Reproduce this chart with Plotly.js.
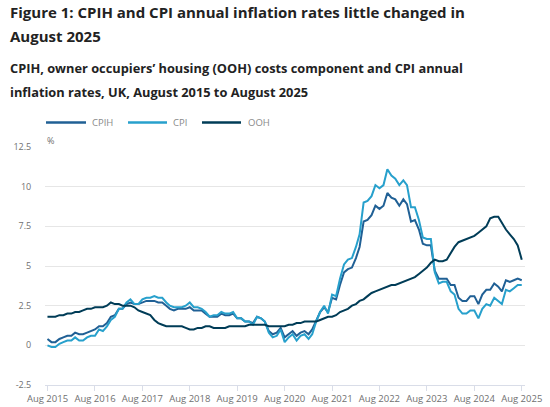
<!DOCTYPE html>
<html>
<head>
<meta charset="utf-8">
<script src="https://cdn.plot.ly/plotly-3.0.1.min.js"></script>
<style>
html,body{margin:0;padding:0;background:#fff;}
#chart{width:550px;height:407px;}
</style>
</head>
<body>
<div id="chart"></div>
<script>
// Monthly series, August 2015 to August 2025
var startMonth = '2015-08';
var cpih = [
  0.4, 0.2, 0.2, 0.4, 0.5,
  0.6, 0.6, 0.8, 0.7, 0.7, 0.8, 0.9, 1.0, 1.2, 1.2, 1.4, 1.8,
  1.9, 2.3, 2.3, 2.6, 2.7, 2.6, 2.6, 2.7, 2.8, 2.8, 2.8, 2.7,
  2.7, 2.5, 2.3, 2.2, 2.3, 2.3, 2.3, 2.4, 2.2, 2.2, 2.2, 2.0,
  1.8, 1.8, 1.8, 2.0, 1.9, 1.9, 2.0, 1.7, 1.7, 1.5, 1.5, 1.4,
  1.8, 1.7, 1.5, 0.9, 0.7, 0.8, 1.1, 0.5, 0.7, 0.9, 0.6, 0.8,
  0.9, 0.7, 1.0, 1.6, 2.1, 2.4, 2.1, 3.0, 2.9, 3.8, 4.6, 4.8,
  4.9, 5.5, 6.2, 7.8, 7.9, 8.2, 8.8, 8.6, 8.8, 9.6, 9.3, 9.2,
  8.8, 9.2, 8.9, 7.8, 7.9, 7.3, 6.4, 6.3, 6.3, 4.7, 4.2, 4.2,
  4.2, 3.8, 3.8, 3.0, 2.8, 2.8, 3.1, 3.1, 2.6, 3.2, 3.5, 3.5,
  3.9, 3.7, 3.4, 4.1, 4.0, 4.1, 4.2, 4.1
];
var cpi = [
  0.0, -0.1, -0.1, 0.1, 0.2,
  0.3, 0.3, 0.5, 0.3, 0.3, 0.5, 0.6, 0.6, 1.0, 0.9, 1.2, 1.6,
  1.8, 2.3, 2.3, 2.7, 2.9, 2.6, 2.6, 2.9, 3.0, 3.0, 3.1, 3.0,
  3.0, 2.7, 2.5, 2.4, 2.4, 2.4, 2.5, 2.7, 2.4, 2.4, 2.3, 2.1,
  1.8, 1.9, 1.9, 2.1, 2.0, 2.0, 2.1, 1.7, 1.7, 1.5, 1.5, 1.3,
  1.8, 1.7, 1.5, 0.8, 0.5, 0.6, 1.0, 0.2, 0.5, 0.7, 0.3, 0.6,
  0.7, 0.4, 0.7, 1.5, 2.1, 2.5, 2.0, 3.2, 3.1, 4.2, 5.1, 5.4,
  5.5, 6.2, 7.0, 9.0, 9.1, 9.4, 10.1, 9.9, 10.1, 11.1, 10.7, 10.5,
  10.1, 10.4, 10.1, 8.7, 8.7, 7.9, 6.8, 6.7, 6.7, 4.6, 3.9, 4.0,
  4.0, 3.4, 3.2, 2.3, 2.0, 2.0, 2.2, 2.2, 1.7, 2.3, 2.6, 2.5,
  3.0, 2.8, 2.6, 3.5, 3.4, 3.6, 3.8, 3.8
];
var ooh = [
  1.8, 1.8, 1.8, 1.9, 1.9,
  2.0, 2.0, 2.1, 2.1, 2.2, 2.3, 2.3, 2.4, 2.4, 2.4, 2.5, 2.7,
  2.6, 2.6, 2.5, 2.5, 2.5, 2.4, 2.2, 2.1, 2.0, 1.9, 1.6, 1.4,
  1.3, 1.2, 1.2, 1.2, 1.2, 1.2, 1.1, 1.0, 1.0, 1.1, 1.1, 1.2,
  1.2, 1.1, 1.1, 1.1, 1.1, 1.2, 1.2, 1.2, 1.2, 1.2, 1.3, 1.3,
  1.3, 1.3, 1.3, 1.2, 1.2, 1.2, 1.2, 1.2, 1.3, 1.3, 1.4, 1.4,
  1.5, 1.5, 1.5, 1.5, 1.6, 1.7, 1.8, 1.8, 1.9, 2.1, 2.2, 2.3,
  2.5, 2.6, 2.8, 2.9, 3.1, 3.3, 3.4, 3.5, 3.6, 3.7, 3.8, 3.8,
  3.9, 4.0, 4.1, 4.2, 4.3, 4.5, 4.7, 4.9, 5.2, 5.4, 5.3, 5.3,
  5.4, 5.8, 6.2, 6.5, 6.6, 6.7, 6.8, 6.9, 7.1, 7.3, 7.5, 8.0,
  8.1, 8.1, 7.7, 7.3, 7.0, 6.7, 6.3, 5.4
];
var seriesNames = ['CPIH', 'CPI', 'OOH'];
var seriesColors = ['#206095', '#27a0cc', '#003c57'];
var tickLabels = ['Aug 2015','Aug 2016','Aug 2017','Aug 2018','Aug 2019','Aug 2020',
                  'Aug 2021','Aug 2022','Aug 2023','Aug 2024','Aug 2025'];
var yTicks = [-2.5, 0, 2.5, 5, 7.5, 10, 12.5];
var yTickText = ['-2.5', '0', '2.5', '5', '7.5', '10', '12.5'];

// month list
function monthList(start, n) {
  var y = +start.slice(0,4), m = +start.slice(5,7);
  var out = [];
  for (var i = 0; i < n; i++) {
    out.push(y + '-' + (m < 10 ? '0' + m : m) + '-01');
    m++; if (m > 12) { m = 1; y++; }
  }
  return out;
}
var months = monthList(startMonth, cpih.length);
var monthIdx = {Jan:'01',Feb:'02',Mar:'03',Apr:'04',May:'05',Jun:'06',Jul:'07',Aug:'08',Sep:'09',Oct:'10',Nov:'11',Dec:'12'};
var tickVals = tickLabels.map(function(t){ var p = t.split(' '); return p[1] + '-' + monthIdx[p[0]] + '-01'; });

var allSeries = [cpih, cpi, ooh];
var traces = allSeries.map(function(vals, i){
  return {
    x: months, y: vals, type: 'scatter', mode: 'lines', name: seriesNames[i],
    line: {color: seriesColors[i], width: 2}, hoverinfo: 'skip'
  };
});
// draw OOH under? keep order CPIH, CPI, OOH
// plot area pixel geometry
var L = 45, R = 525, T = 147, B = 385, W = 550, H = 407;
function px(x){ return (x - L) / (R - L); }
function py(y){ return (B - y) / (B - T); }

var font = 'Open Sans, Noto Sans, Arial, sans-serif';
var annotations = [
  {text: '<b>Figure 1: CPIH and CPI annual inflation rates little changed in</b>', x: px(8), y: py(12), size: 15},
  {text: '<b>August 2025</b>', x: px(8), y: py(36), size: 15},
  {text: '<b>CPIH, owner occupiers\u2019 housing (OOH) costs component and CPI annual</b>', x: px(8), y: py(68), size: 12.8},
  {text: '<b>inflation rates, UK, August 2015 to August 2025</b>', x: px(8), y: py(92), size: 12.8}
].map(function(a){
  return {text: a.text, xref: 'paper', yref: 'paper', x: a.x, y: a.y, xanchor: 'left', yanchor: 'middle',
          showarrow: false, font: {family: font, size: a.size, color: '#222222'}};
});
annotations.push({text: '%', xref: 'paper', yref: 'paper', x: px(45), y: py(140), xanchor: 'left', yanchor: 'middle',
  showarrow: false, font: {family: font, size: 9, color: '#707070'}});

// legend
var legX = [[46, 86, 90], [128, 167, 171], [202, 241, 246]];
var legY = 122.5;
var shapes = [];
seriesNames.forEach(function(n, i){
  shapes.push({type: 'line', xref: 'paper', yref: 'paper', x0: px(legX[i][0]), x1: px(legX[i][1]), y0: py(legY), y1: py(legY),
    line: {color: seriesColors[i], width: 2.5}});
  annotations.push({text: n, xref: 'paper', yref: 'paper', x: px(legX[i][2]), y: py(legY), xanchor: 'left', yanchor: 'middle',
    showarrow: false, font: {family: font, size: 9.5, color: '#8a8a8a'}});
});

var layout = {
  width: W, height: H,
  margin: {l: L, r: W - R, t: T, b: H - B, pad: 0},
  paper_bgcolor: '#ffffff', plot_bgcolor: '#ffffff',
  showlegend: false,
  font: {family: font, color: '#707070', size: 9},
  xaxis: {
    type: 'date', range: ['2015-07-13', '2025-08-26'],
    tickvals: tickVals, ticktext: tickLabels,
    showgrid: false, zeroline: false,
    showline: true, linecolor: '#d9dde8', linewidth: 1,
    ticks: 'outside', ticklen: 5, tickcolor: '#d9dde8', tickwidth: 1,
    tickfont: {family: font, size: 9.5, color: '#707070'},
    automargin: false, fixedrange: true
  },
  yaxis: {
    range: [-2.5, 12.5], tickvals: yTicks, ticktext: yTickText,
    showgrid: true, gridcolor: '#e6e6e6', gridwidth: 1,
    zeroline: false, showline: false,
    ticks: 'outside', ticklen: 11, tickcolor: 'rgba(0,0,0,0)',
    tickfont: {family: font, size: 9, color: '#707070'},
    automargin: false, fixedrange: true
  },
  annotations: annotations,
  shapes: shapes
};

Plotly.newPlot('chart', traces, layout, {displayModeBar: false, staticPlot: true});
</script>
</body>
</html>
